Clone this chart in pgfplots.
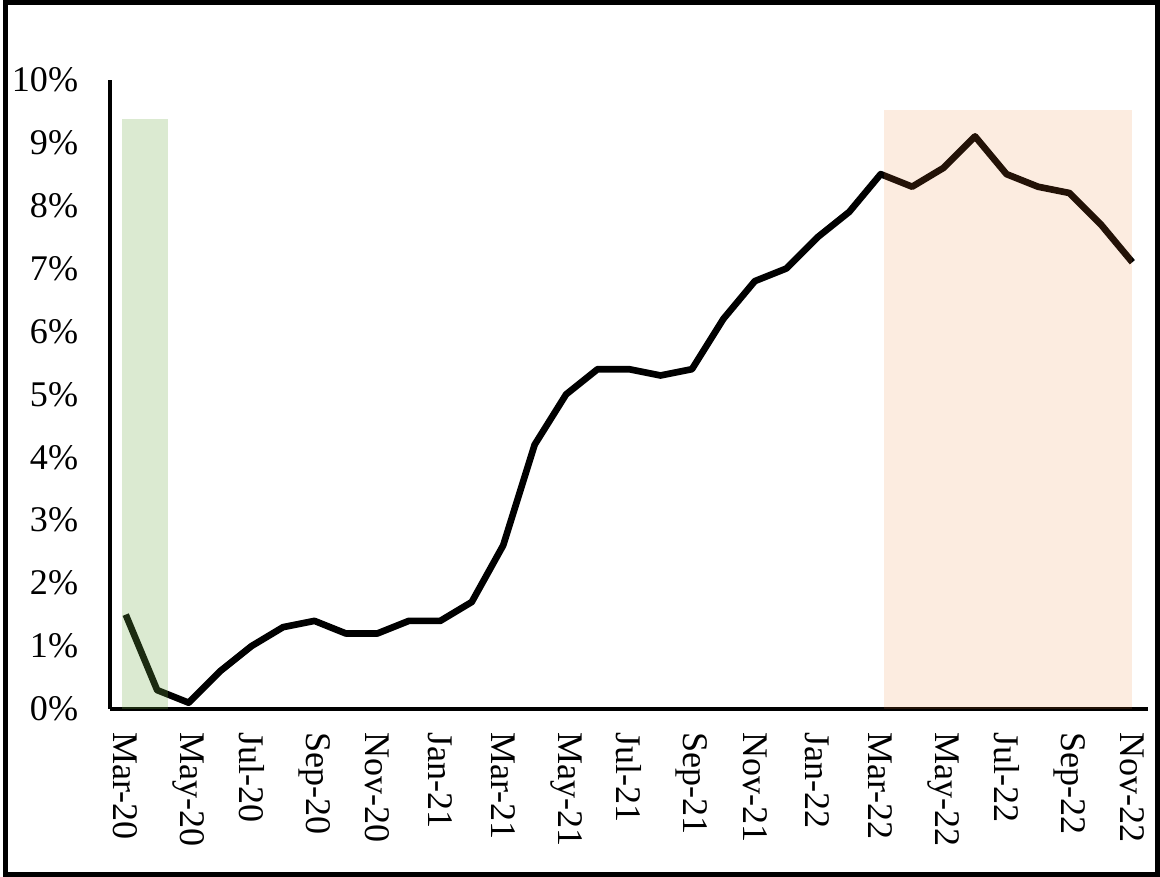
\documentclass[border=0pt]{standalone}
\usepackage{pgfplots}
\pgfplotsset{compat=1.18}
\usepackage{fontspec}
\setmainfont{Liberation Serif}
\definecolor{bandgreen}{RGB}{112,173,71}
\definecolor{bandorange}{RGB}{237,125,49}

\begin{document}
\fontsize{10.2}{12}\selectfont
\begin{tikzpicture}
\begin{axis}[
    scale only axis,
    width=10.41cm,
    height=6.31cm,
    xmin=-0.5, xmax=32.5,
    ymin=0, ymax=10,
    axis lines=left,
    axis line style={line width=1.15pt, -},
    clip=false,
    major tick length=0pt,
    ytick={0,1,...,10},
    yticklabel={\pgfmathprintnumber{\tick}\%},
    yticklabel style={xshift=-5.5pt},
    xtick={0,2,...,32},
    xticklabels={Mar-20,May-20,Jul-20,Sep-20,Nov-20,Jan-21,Mar-21,May-21,Jul-21,Sep-21,Nov-21,Jan-22,Mar-22,May-22,Jul-22,Sep-22,Nov-22},
    xticklabel style={rotate=-90, anchor=west, xshift=3pt},
    /pgf/number format/assume math mode=true,
    tick label style={font=\fontsize{10.3}{12}\selectfont},
]

\addplot[black, line width=1.9pt, line join=round, mark=none] coordinates {
    (0,1.5)(1,0.3)(2,0.1)(3,0.6)(4,1.0)(5,1.3)(6,1.4)(7,1.2)(8,1.2)(9,1.4)
    (10,1.4)(11,1.7)(12,2.6)(13,4.2)(14,5.0)(15,5.4)(16,5.4)(17,5.3)(18,5.4)
    (19,6.2)(20,6.8)(21,7.0)(22,7.5)(23,7.9)(24,8.5)(25,8.3)(26,8.6)(27,9.1)
    (28,8.5)(29,8.3)(30,8.2)(31,7.7)(32,7.1)
};

% shaded periods
\addplot[fill=bandgreen, fill opacity=0.25, draw=none] coordinates {
    (-0.12,0)(-0.12,9.37)(1.35,9.37)(1.35,0)
} -- cycle;
\addplot[fill=bandorange, fill opacity=0.15, draw=none] coordinates {
    (24.1,0)(24.1,9.52)(32.0,9.52)(32.0,0)
} -- cycle;

\draw[line width=0.5mm] (rel axis cs:-0.1004,-0.2623) rectangle (rel axis cs:1.0091,1.1228);
\end{axis}
\end{tikzpicture}
\end{document}
